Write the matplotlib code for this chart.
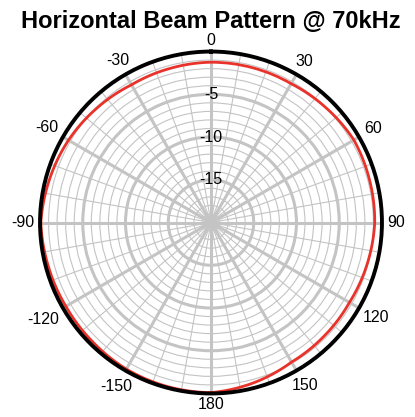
import numpy as np
from matplotlib import pyplot as plt

# beam pattern (deg, dB)
angles_deg = [-180, -165, -150, -135, -120, -105, -90, -75, -60, -45, -30, -15,
              0, 15, 30, 45, 60, 75, 90, 105, 120, 135, 150, 165, 180]
level_db = [-0.1, -0.15, -0.2, -0.35, -0.4, -0.3, -0.1, -0.45, -0.75, -1.1, -1.4, -1.35,
            -1.25, -1.25, -1.25, -1.0, -0.7, -0.8, -0.85, -1.1, -1.3, -1.25, -1.15, -0.6, -0.1]

theta_ticks = [0, 30, 60, 90, 120, 150, 180, 210, 240, 270, 300, 330]
theta_labels = ['0', '30', '60', '90', '120', '150', '180', '-150', '-120', '-90', '-60', '-30']
r_ticks = [-15, -10, -5]
r_labels = ['-15', '-10', '-5']

plt.rcParams['font.family'] = ['Liberation Sans', 'DejaVu Sans']

fig = plt.figure(figsize=(4.15, 4.17), dpi=100)
ax = fig.add_axes([0.0964, 0.0564, 0.824, 0.820], projection='polar')
ax.set_theta_zero_location('N')
ax.set_theta_direction(-1)
ax.set_ylim(-20, 0)

grid_col = '#c4c4c4'
ax.set_xticks(np.deg2rad(theta_ticks))
ax.set_xticklabels([])
ax.set_xticks(np.deg2rad(np.arange(0, 360, 10)), minor=True)
ax.set_yticks(r_ticks)
ax.set_yticklabels([])
ax.set_yticks(np.arange(-19, 0, 1), minor=True)
ax.grid(which='major', color=grid_col, lw=2.2)
ax.grid(which='minor', color=grid_col, lw=0.8)
ax.tick_params(which='both', length=0)

# angle labels: keep the text box a small gap outside the rim
fs = 11.5
em = fs * 100 / 72
for t, lab in zip(theta_ticks, theta_labels):
    a = np.deg2rad(t)
    hw = 0.5 * em * (0.556 * len(lab.lstrip('-')) + 0.333 * lab.startswith('-'))
    hh = 0.36 * em
    off = 5.5 + hw * abs(np.sin(a)) + hh * abs(np.cos(a))
    ax.annotate(lab, xy=(a, 0), xytext=(off * np.sin(a) * 0.72, off * np.cos(a) * 0.72),
                textcoords='offset points', ha='center', va='center', fontsize=fs,
                annotation_clip=False)

for r, lab in zip(r_ticks, r_labels):
    ax.text(0, r, lab, ha='center', va='center', fontsize=fs)

line, = ax.plot(np.deg2rad(angles_deg), level_db, color='#e8322a', lw=2, zorder=3)
line.get_path()._interpolation_steps = 40  # curve along theta, not chords

ax.spines['polar'].set_linewidth(2.8)
ax.spines['polar'].set_color('black')
ax.spines['polar'].set_zorder(4)

fig.text(0.507, 0.933, 'Horizontal Beam Pattern @ 70kHz', ha='center', va='baseline',
         fontsize=17, fontweight='bold')

fig.savefig('out.png', dpi=100)
